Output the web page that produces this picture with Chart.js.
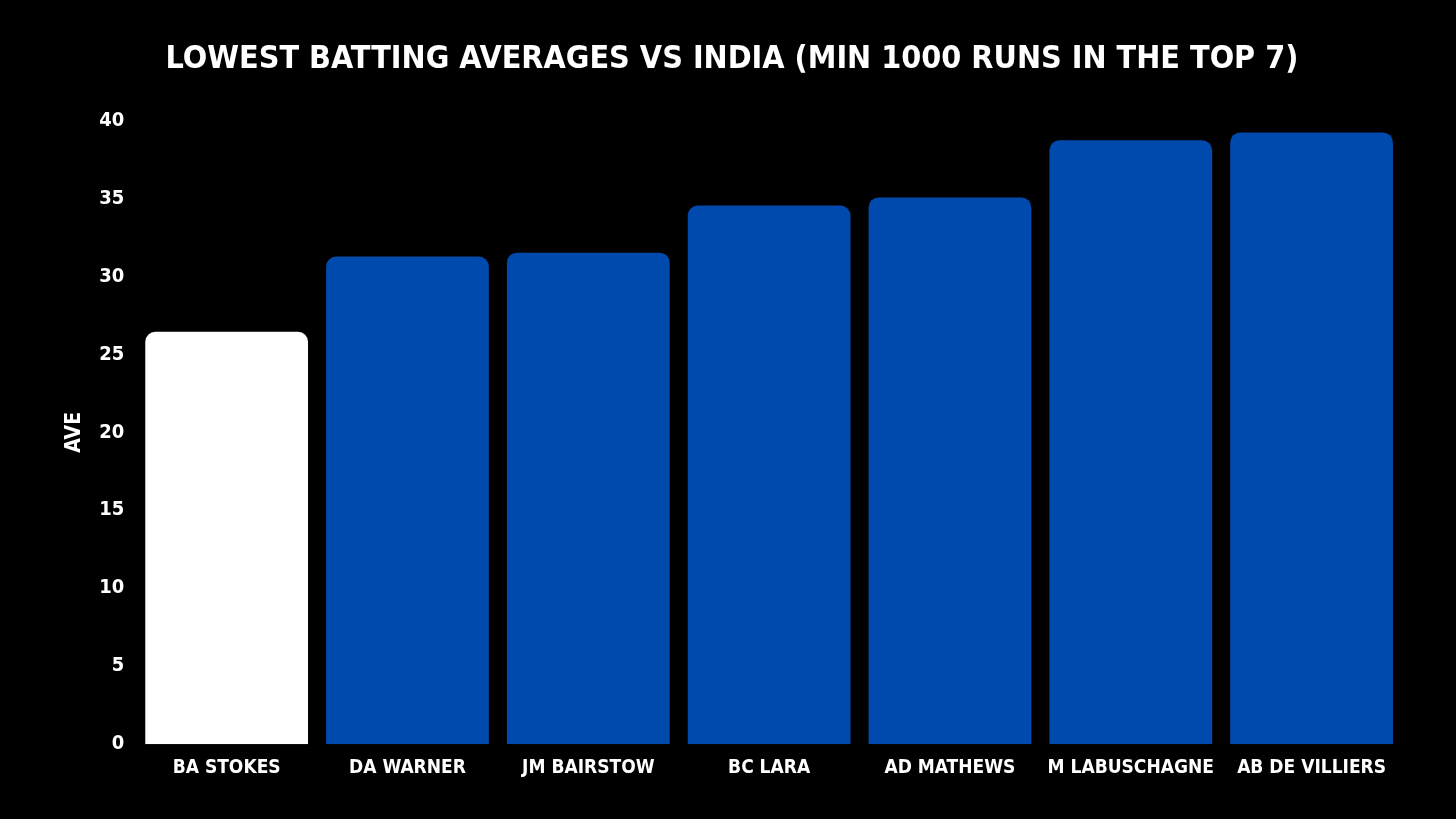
<!DOCTYPE html>
<html>
<head>
<meta charset="utf-8">
<script src="https://cdn.jsdelivr.net/npm/chart.js@4"></script>
<style>
    html, body { margin: 0; padding: 0; background: #000; }
    #wrap { width: 1456px; height: 819px; }
</style>
</head>
<body>
<div id="wrap"><canvas id="aveChart"></canvas></div>
<script>
// data
const players = ["BA STOKES", "DA WARNER", "JM BAIRSTOW", "BC LARA", "AD MATHEWS", "M LABUSCHAGNE", "AB DE VILLIERS"];
const averages = [26.45, 31.27, 31.52, 34.54, 35.06, 38.72, 39.23];
const barColors = ["#ffffff", "#004aad", "#004aad", "#004aad", "#004aad", "#004aad", "#004aad"];
const yTicks = [0, 5, 10, 15, 20, 25, 30, 35, 40];

const fontFamily = "'DejaVu Sans Condensed', 'Liberation Sans Narrow', sans-serif";

const ctx = document.getElementById("aveChart").getContext("2d");
new Chart(ctx, {
    type: "bar",
    data: {
        labels: players,
        datasets: [{
            label: "AVE",
            data: averages,
            backgroundColor: barColors,
            borderRadius: { topLeft: 10, topRight: 10, bottomLeft: 0, bottomRight: 0 },
            borderSkipped: "bottom",
            categoryPercentage: 0.9,
            barPercentage: 1.0
        }]
    },
    options: {
        responsive: true,
        maintainAspectRatio: false,
        animation: false,
        layout: { padding: { left: 62, right: 54, top: 22, bottom: 28 } },
        plugins: {
            legend: { display: false },
            tooltip: { enabled: false },
            title: {
                display: true,
                text: "LOWEST BATTING AVERAGES VS INDIA (MIN 1000 RUNS IN THE TOP 7)",
                color: "#ffffff",
                font: { family: fontFamily, size: 32, weight: "bold" },
                padding: { top: 18, bottom: 42 }
            }
        },
        scales: {
            x: {
                grid: { display: false, drawTicks: false },
                border: { display: false },
                ticks: {
                    color: "#ffffff",
                    padding: 12,
                    maxRotation: 0,
                    autoSkip: false,
                    font: { family: fontFamily, size: 19, weight: "bold" }
                }
            },
            y: {
                min: 0,
                max: 40,
                afterBuildTicks: (axis) => { axis.ticks = yTicks.map((v) => ({ value: v })); },
                grid: { display: false, drawTicks: false },
                border: { display: false },
                ticks: {
                    color: "#ffffff",
                    padding: 12,
                    font: { family: fontFamily, size: 20, weight: "bold" }
                },
                title: {
                    display: true,
                    text: "AVE",
                    color: "#ffffff",
                    padding: { top: 0, bottom: 0 },
                    font: { family: fontFamily, size: 21, weight: "bold" }
                }
            }
        }
    }
});
</script>
</body>
</html>
